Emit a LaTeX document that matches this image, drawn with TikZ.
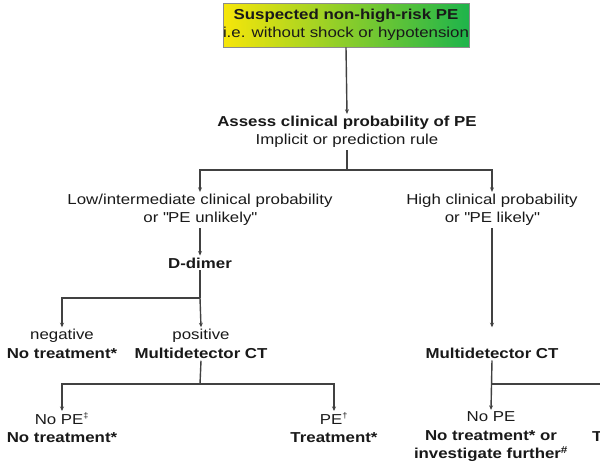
\documentclass[tikz,border=0pt]{standalone}
\usepackage{fontspec}
\setmainfont[FakeStretch=1.17]{Liberation Sans}
\usetikzlibrary{arrows.meta}
\definecolor{boxyellow}{RGB}{247,230,10}
\definecolor{boxmid}{RGB}{170,212,55}
\definecolor{boxgreen}{RGB}{30,180,75}
\definecolor{linegray}{RGB}{65,65,65}
\definecolor{txtgray}{RGB}{25,25,25}
\begin{document}
\begin{tikzpicture}[x=1pt,y=-1pt,
  txt/.style={align=center,text=txtgray,font=\fontsize{14.4}{18.5}\selectfont,inner sep=2pt},
  conn/.style={draw=linegray,line width=1.4pt},
  arr/.style={conn,-{Stealth[length=4.5pt,width=4pt]}}]
\useasboundingbox (0,0) rectangle (600,469);
\clip (0,0) rectangle (600,469);
% top box
\node[txt,draw=black!45,line width=0.6pt,left color=boxyellow,middle color=boxmid,right color=boxgreen,
  minimum width=246pt,minimum height=44pt,inner sep=0pt] (top) at (346,25)
  {\textbf{Suspected non-high-risk PE}\\i.e. without shock or hypotension};
\node[txt] (assess) at (347,132) {\textbf{Assess clinical probability of PE}\\Implicit or prediction rule};
\node[txt] (low) at (200,210) {Low/intermediate clinical probability\\or \textquotedbl PE unlikely\textquotedbl};
\node[txt] (high) at (492,210) {High clinical probability\\or \textquotedbl PE likely\textquotedbl};
\node[txt] (ddimer) at (200,263) {\textbf{D-dimer}};
\node[txt] (neg) at (62,344) {negative\\\textbf{No treatment*}};
\node[txt] (pos) at (201,344) {positive\\\textbf{Multidetector CT}};
\node[txt] (mctr) at (492,353) {\textbf{Multidetector CT}};
\node[txt] (nope1) at (62,428) {No PE\textsuperscript{\footnotesize‡}\\\textbf{No treatment*}};
\node[txt] (pe1) at (334,428) {PE\textsuperscript{\footnotesize†}\\\textbf{Treatment*}};
\node[txt] (nope2) at (491,437) {No PE\\\textbf{No treatment* or}\\\textbf{investigate further\textsuperscript{\#}}};
\node[txt,anchor=west,inner sep=0pt] (tr3) at (592,437) {\textbf{Treatment*}};
% connectors
\draw[arr] (top.south) -- (assess.north);
\coordinate (b1) at (347,170);
\draw[conn] (assess.south) -- (b1);
\draw[arr] (b1) -| (low.north);
\draw[arr] (b1) -| (high.north);
\draw[arr] (low.south) -- (ddimer.north);
\coordinate (b2) at (200,298);
\draw[conn] (ddimer.south) -- (b2);
\draw[arr] (b2) -| (neg.north);
\draw[arr] (b2) -- (pos.north);
\draw[arr] (high.south) -- (high.south |- pos.north);
\coordinate (b3) at (200,384);
\draw[conn] (pos.south) -- (b3);
\draw[arr] (b3) -| (nope1.north);
\draw[arr] (b3) -| (pe1.north);
\draw[arr] (mctr.south) -- (nope2.north);
\coordinate (b4) at (491,384);
\coordinate (offr) at (610,384);
\draw[conn] (b4) -- (offr);
\end{tikzpicture}
\end{document}
